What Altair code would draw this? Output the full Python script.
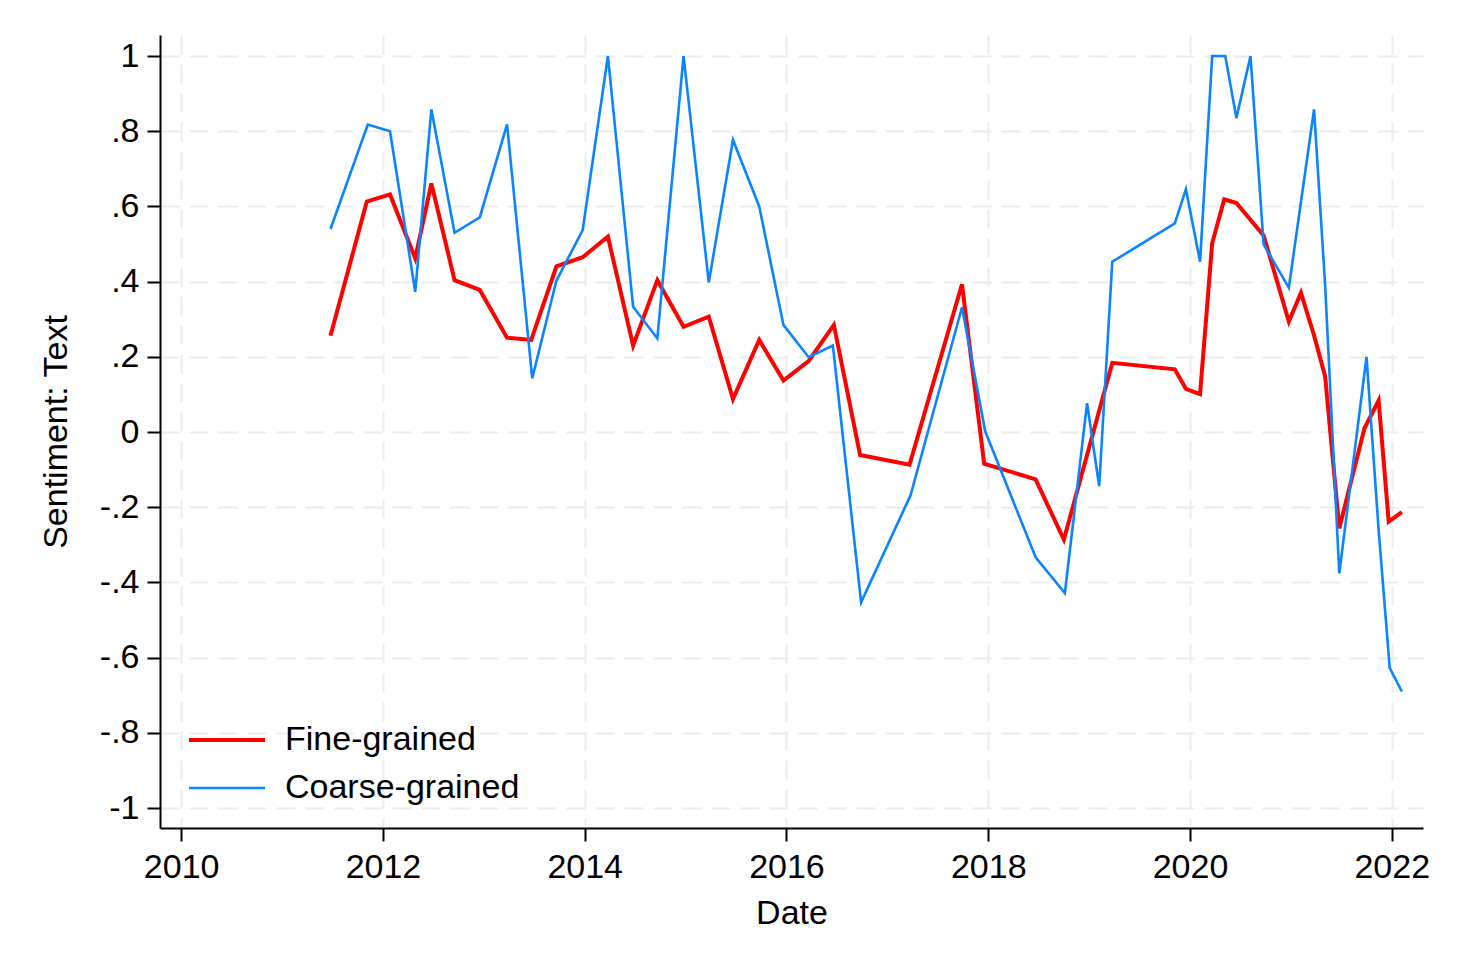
import altair as alt
import pandas as pd

series_names = ["Fine-grained", "Coarse-grained"]

fine_dates = [2011.48, 2011.84, 2012.07, 2012.32, 2012.48, 2012.71, 2012.96, 2013.23,
              2013.47, 2013.72, 2013.98, 2014.23, 2014.48, 2014.72, 2014.98, 2015.23,
              2015.47, 2015.73, 2015.97, 2016.22, 2016.47, 2016.73, 2017.22, 2017.74,
              2017.96, 2018.47, 2018.75, 2019.23, 2019.85, 2019.96, 2020.10, 2020.22,
              2020.34, 2020.46, 2020.73, 2020.98, 2021.10, 2021.23, 2021.34, 2021.48,
              2021.73, 2021.87, 2021.97, 2022.10]
fine_values = [0.256, 0.613, 0.632, 0.462, 0.661, 0.404, 0.378, 0.251,
               0.245, 0.441, 0.465, 0.520, 0.230, 0.404, 0.280, 0.307,
               0.088, 0.245, 0.137, 0.189, 0.285, -0.061, -0.087, 0.393,
               -0.084, -0.126, -0.286, 0.184, 0.167, 0.115, 0.101, 0.502,
               0.619, 0.609, 0.523, 0.294, 0.370, 0.257, 0.148, -0.256,
               0.010, 0.084, -0.238, -0.213]

coarse_dates = [2011.48, 2011.85, 2012.07, 2012.32, 2012.48, 2012.71, 2012.96, 2013.23,
                2013.48, 2013.72, 2013.98, 2014.23, 2014.48, 2014.72, 2014.98, 2015.23,
                2015.47, 2015.73, 2015.97, 2016.22, 2016.46, 2016.74, 2017.23, 2017.74,
                2017.97, 2018.47, 2018.76, 2018.98, 2019.10, 2019.23, 2019.85, 2019.96,
                2020.10, 2020.22, 2020.35, 2020.46, 2020.60, 2020.73, 2020.98, 2021.23,
                2021.34, 2021.48, 2021.75, 2021.87, 2021.98, 2022.10]
coarse_values = [0.540, 0.818, 0.800, 0.373, 0.858, 0.530, 0.571, 0.818,
                 0.143, 0.403, 0.537, 1.000, 0.333, 0.249, 1.000, 0.398,
                 0.777, 0.600, 0.285, 0.199, 0.230, -0.453, -0.168, 0.332,
                 0.002, -0.333, -0.428, 0.077, -0.144, 0.453, 0.555, 0.646,
                 0.453, 1.000, 1.000, 0.835, 1.000, 0.499, 0.384, 0.858,
                 0.390, -0.376, 0.200, -0.260, -0.627, -0.690]

x_ticks = [2010, 2012, 2014, 2016, 2018, 2020, 2022]
y_ticks = [-1, -0.8, -0.6, -0.4, -0.2, 0, 0.2, 0.4, 0.6, 0.8, 1]

df = pd.concat([
    pd.DataFrame({"date": fine_dates, "value": fine_values, "series": series_names[0]}),
    pd.DataFrame({"date": coarse_dates, "value": coarse_values, "series": series_names[1]}),
], ignore_index=True)

FONT = "Liberation Sans"
FS = 34

x_enc = alt.X("date:Q",
              scale=alt.Scale(domain=[2009.79, 2022.31], nice=False, zero=False),
              axis=alt.Axis(values=x_ticks, format="d", title="Date",
                            labelPadding=9, titlePadding=12))
y_enc = alt.Y("value:Q",
              scale=alt.Scale(domain=[-1.053, 1.056], nice=False, zero=False),
              axis=alt.Axis(values=y_ticks, title="Sentiment: Text",
                            labelPadding=8, titlePadding=26,
                            labelExpr="abs(datum.value) < 0.001 ? '0' : abs(abs(datum.value) - 1) < 0.001 ? (datum.value < 0 ? '-1' : '1') : (datum.value < 0 ? '-' : '') + substring(format(abs(datum.value), '.1f'), 1)"))
color_enc = alt.Color("series:N",
                      scale=alt.Scale(domain=series_names, range=["#ff0000", "#0a84ff"]),
                      legend=alt.Legend(title=None, orient="none", legendX=27, legendY=681,
                                        symbolType="stroke", symbolSize=5776,
                                        labelFontSize=FS, labelFont=FONT, labelColor="black",
                                        labelOffset=18, rowPadding=0, clipHeight=48,
                                        labelLimit=400))
sw_enc = alt.StrokeWidth("series:N",
                         scale=alt.Scale(domain=series_names, range=[4, 2.6]))

base = alt.Chart(df)
fine = base.transform_filter(alt.datum.series == series_names[0]).mark_line().encode(
    x=x_enc, y=y_enc, color=color_enc, strokeWidth=sw_enc)
coarse = base.transform_filter(alt.datum.series == series_names[1]).mark_line().encode(
    x=x_enc, y=y_enc, color=color_enc, strokeWidth=sw_enc)

chart = alt.layer(fine, coarse).properties(
    width=1263, height=793,
    autosize=alt.AutoSizeParams(type="none"),
    padding={"left": 152, "top": 27, "right": 27, "bottom": 136},
    background="white",
).configure_view(stroke=None).configure_axis(
    labelFont=FONT, titleFont=FONT, labelFontSize=FS, titleFontSize=FS,
    labelColor="black", titleColor="black", titleFontWeight="normal",
    domainColor="black", domainWidth=2, tickColor="black", tickWidth=2, tickSize=13,
    gridColor="#ececec", gridDash=[19, 10], gridWidth=2,
)

chart.save("out.html", embed_options={"renderer": "svg", "actions": False})
